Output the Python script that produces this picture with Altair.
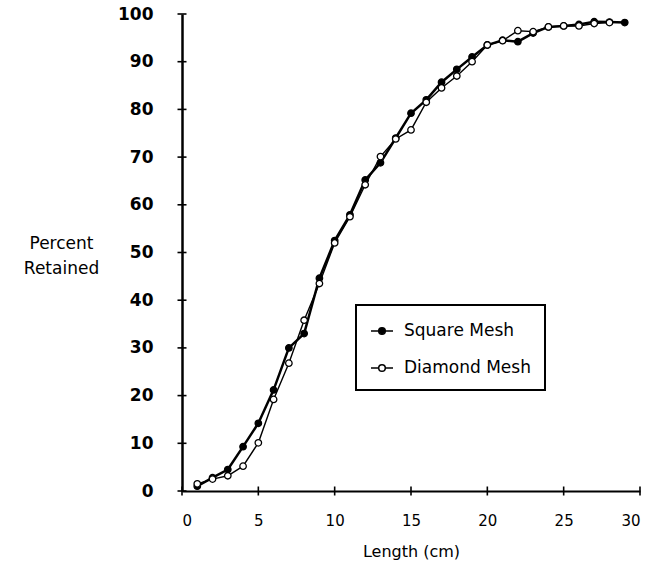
import altair as alt
import pandas as pd

# ---- data ----
square_len = list(range(1, 30))
square_pct = [1, 2.8, 4.5, 9.3, 14.2, 21.2, 30, 33, 44.6, 52.5, 57.9, 65.2, 68.8, 74,
              79.2, 82, 85.7, 88.4, 91, 93.5, 94.5, 94.2, 96, 97.3, 97.5, 97.8, 98.4,
              98.3, 98.2]
diamond_len = list(range(1, 29))
diamond_pct = [1.5, 2.5, 3.2, 5.2, 10.1, 19.2, 26.8, 35.8, 43.5, 52, 57.5, 64.2, 70.1,
               73.8, 75.7, 81.5, 84.5, 87, 90, 93.5, 94.4, 96.5, 96.3, 97.3, 97.5, 97.5,
               98, 98.2]
series_names = ["Square Mesh", "Diamond Mesh"]
x_ticks = [0, 5, 10, 15, 20, 25, 30]
y_ticks = [0, 10, 20, 30, 40, 50, 60, 70, 80, 90, 100]

df_sq = pd.DataFrame({"length": square_len, "pct": square_pct, "series": series_names[0]})
df_di = pd.DataFrame({"length": diamond_len, "pct": diamond_pct, "series": series_names[1]})
df = pd.concat([df_sq, df_di])

FONT = "DejaVu Sans"
xscale = alt.Scale(domain=[0, 30], nice=False, zero=True)
yscale = alt.Scale(domain=[0, 100], nice=False)

xaxis = alt.Axis(values=x_ticks, title="Length (cm)", grid=False, ticks=False, tickSize=0,
                 domainColor="black", domainWidth=2, labelFont=FONT, labelFontSize=15,
                 labelColor="black", labelPadding=22, titleFont=FONT, titleFontSize=16,
                 titleFontWeight="normal", titleColor="black", titlePadding=15)
yaxis = alt.Axis(values=y_ticks, title=["Percent", "Retained"], grid=False, ticks=False,
                 tickSize=0, domainColor="black", domainWidth=2.5, labelFont=FONT,
                 labelFontSize=17, labelFontWeight="bold", labelColor="black",
                 labelPadding=29, titleFont=FONT, titleFontSize=17,
                 titleFontWeight="normal", titleColor="black", titleAngle=0,
                 titleAlign="center", titleBaseline="middle", titleX=-121, titleY=229,
                 titleLineHeight=25)

legend_symbol = ("M-1,0L-0.3,0M0.3,0L1,0"
                 "M-0.3,0A0.3,0.3,0,1,0,0.3,0A0.3,0.3,0,1,0,-0.3,0")

X = alt.X("length:Q", scale=xscale, axis=xaxis)
Y = alt.Y("pct:Q", scale=yscale, axis=yaxis)

line_sq = alt.Chart(df_sq).mark_line(color="black", strokeWidth=2.5).encode(x=X, y=Y)
line_di = alt.Chart(df_di).mark_line(color="black", strokeWidth=1.4).encode(x=X, y=Y)

points = alt.Chart(df).mark_circle(stroke="black", strokeWidth=1.3, size=42, opacity=1).encode(
    x=X, y=Y,
    fill=alt.Fill("series:N",
                  scale=alt.Scale(domain=series_names, range=["black", "white"]),
                  legend=alt.Legend(orient="none", legendX=174, legendY=291,
                                    direction="vertical", strokeColor="black",
                                    padding=14, symbolType=legend_symbol, symbolSize=484,
                                    symbolStrokeColor="black", symbolStrokeWidth=1.5,
                                    labelFont=FONT, labelFontSize=17,
                                    labelColor="black", labelOffset=10, rowPadding=17,
                                    title=None)),
)

ytick_layer = alt.Chart(pd.DataFrame({"pct": y_ticks})).mark_tick(
    orient="horizontal", size=9, thickness=1.6, color="black", opacity=1
).encode(y=Y, x=alt.value(0))

xtick_layer = alt.Chart(pd.DataFrame({"length": x_ticks})).mark_tick(
    orient="vertical", size=9, thickness=1.6, color="black", opacity=1
).encode(x=X, y=alt.value(477))

chart = alt.layer(line_sq, line_di, points, ytick_layer, xtick_layer).properties(
    width=458, height=477,
    autosize=alt.AutoSizeParams(type="none"),
    padding={"left": 182, "top": 14, "right": 25, "bottom": 74},
    background="white",
).configure_view(stroke=None).configure_legend(strokeWidth=2)

chart.save("out.html", embed_options={"renderer": "svg", "actions": False})
